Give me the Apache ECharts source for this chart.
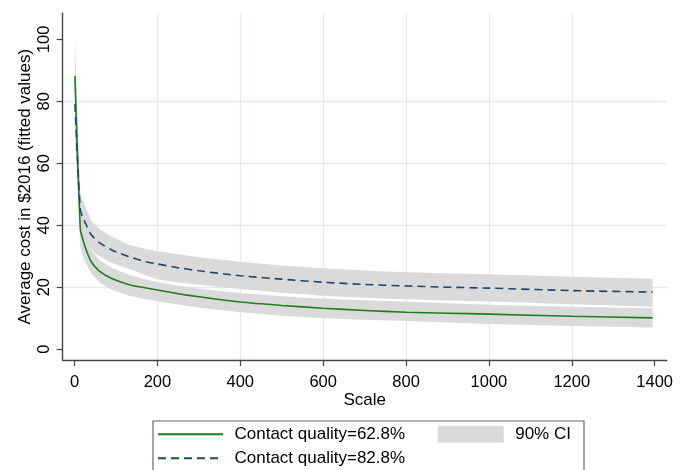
<!DOCTYPE html>
<html><head><meta charset="utf-8">
<script src="https://cdn.jsdelivr.net/npm/echarts@6/dist/echarts.min.js"></script>
<style>html,body{margin:0;padding:0;background:#fff}#c{width:690px;height:470px}</style>
</head><body><div id="c"></div>
<script>
// Scale values at which fitted values were read
const scaleX    = [1, 14, 20, 27, 40, 60, 90, 130, 170, 200, 250, 300, 400, 500, 600, 700, 800, 900, 1000, 1200, 1395];
// Contact quality = 62.8%
const cost628   = [88.2, 38.8, 35.5, 32.5, 28.3, 25.2, 22.8, 20.9, 19.8, 19.1, 17.9, 16.9, 15.2, 14.1, 13.2, 12.5, 11.9, 11.6, 11.3, 10.6, 10.1];
const ci628Low  = [76.0, 33.0, 30.0, 28.0, 24.5, 21.6, 19.2, 17.3, 16.2, 15.5, 14.4, 13.4, 11.9, 10.8, 10.0, 9.5, 9.1, 8.6, 8.1, 7.5, 7.0];
const ci628High = [100.5, 45.0, 40.5, 37.0, 32.0, 28.8, 26.3, 24.0, 22.6, 21.7, 20.5, 19.5, 18.1, 17.1, 16.3, 15.8, 15.3, 14.8, 14.3, 13.7, 13.2];
// Contact quality = 82.8%
const cost828   = [79.1, 45.0, 42.5, 40.5, 37.0, 34.4, 32.0, 29.9, 28.3, 27.5, 26.3, 25.3, 23.7, 22.6, 21.6, 20.9, 20.4, 20.0, 19.7, 18.9, 18.4];
const ci828Low  = [66.0, 40.0, 38.0, 36.0, 32.0, 30.0, 27.8, 26.0, 23.9, 22.6, 21.5, 20.8, 19.4, 18.2, 17.2, 16.6, 16.1, 15.7, 15.4, 14.5, 13.7];
const ci828High = [92.0, 50.0, 48.0, 46.0, 41.5, 38.8, 36.3, 33.8, 32.4, 31.6, 30.6, 29.7, 28.2, 27.0, 26.1, 25.4, 24.8, 24.5, 24.2, 23.4, 22.7];
// Axis ticks
const xTicks = [0, 200, 400, 600, 800, 1000, 1200, 1400];
const yTicks = [0, 20, 40, 60, 80, 100];

const FONT = 'Liberation Sans, Arial, sans-serif';
const GREEN = '#1b7f1b';
const NAVY = '#1a476f';
const GRAY = '#dadada';

function bandSeries(low, high) {
  return {
    type: 'custom',
    name: '90% CI',
    itemStyle: { color: GRAY },
    data: scaleX.map((x, i) => [x, low[i], high[i]]),
    encode: { x: 0, y: [1, 2] },
    renderItem: function (params, api) {
      if (params.dataIndex !== 0) return null;
      const pts = [];
      for (let i = 0; i < scaleX.length; i++) pts.push(api.coord([scaleX[i], high[i]]));
      for (let i = scaleX.length - 1; i >= 0; i--) pts.push(api.coord([scaleX[i], low[i]]));
      return { type: 'polygon', shape: { points: pts }, style: { fill: GRAY }, silent: true };
    },
    z: 1
  };
}

const chart = echarts.init(document.getElementById('c'), null, { renderer: 'canvas' });
chart.setOption({
  backgroundColor: '#fff',
  animation: false,
  textStyle: { fontFamily: FONT, color: '#000' },
  grid: { left: 62.7, right: 23.3, top: 13.3, bottom: 110 },
  xAxis: {
    type: 'value', min: -28.5, max: 1429, minInterval: 200, maxInterval: 200,
    name: 'Scale', nameLocation: 'middle', nameGap: 31.5, nameMoveOverlap: false,
    nameTextStyle: { fontSize: 17, color: '#000', fontFamily: FONT },
    axisLine: { show: true, onZero: false, lineStyle: { color: '#444', width: 1.4 } },
    axisTick: { show: true, length: 6, customValues: xTicks, lineStyle: { color: '#444', width: 1.2 } },
    axisLabel: { customValues: xTicks, fontSize: 16.5, color: '#000', margin: 14, fontFamily: FONT,
      formatter: v => String(v) },
    splitLine: { show: true, showMinLine: false, showMaxLine: false, lineStyle: { color: '#e3eaef', width: 1.3 } }
  },
  yAxis: {
    type: 'value', min: -3.5, max: 108.4, minInterval: 20, maxInterval: 20,
    name: 'Average cost in $2016 (fitted values)', nameLocation: 'middle', nameGap: 28.5, nameMoveOverlap: false,
    nameTextStyle: { fontSize: 17, color: '#000', fontFamily: FONT },
    axisLine: { show: true, onZero: false, lineStyle: { color: '#444', width: 1.4 } },
    axisTick: { show: true, length: 6, customValues: yTicks, lineStyle: { color: '#444', width: 1.2 } },
    axisLabel: { customValues: yTicks, rotate: 90, fontSize: 16.5, color: '#000', margin: 9.5, fontFamily: FONT,
      formatter: v => String(v) },
    splitLine: { show: true, showMinLine: false, showMaxLine: false, lineStyle: { color: '#e3eaef', width: 1.3 } }
  },
  legend: [
    {
      orient: 'vertical', left: 157, top: 425.8, padding: 0, itemGap: 7,
      itemWidth: 65, itemHeight: 14,
      itemStyle: { opacity: 0 },
      textStyle: { fontSize: 17, color: '#000', fontFamily: FONT, padding: [0, 0, 0, 6.5] },
      data: ['Contact quality=62.8%', 'Contact quality=82.8%']
    },
    {
      orient: 'vertical', left: 437.7, top: 425.8, padding: 0,
      itemWidth: 66, itemHeight: 17,
      textStyle: { fontSize: 17, color: '#000', fontFamily: FONT, padding: [0, 0, 0, 6.5] },
      data: [{ name: '90% CI', icon: 'rect', itemStyle: { color: GRAY, opacity: 1 } }]
    }
  ],
  graphic: [{
    type: 'rect', left: 150.5, top: 418.5, silent: true,
    shape: { x: 0, y: 0, width: 431, height: 60 },
    style: { fill: 'none', stroke: '#666', lineWidth: 1.2 }
  }],
  series: [
    bandSeries(ci628Low, ci628High),
    bandSeries(ci828Low, ci828High),
    {
      type: 'line', name: 'Contact quality=62.8%', showSymbol: false, symbol: 'none',
      data: scaleX.map((x, i) => [x, cost628[i]]), smooth: 0.25,
      lineStyle: { color: GREEN, width: 1.6 }, itemStyle: { color: GREEN }, z: 3
    },
    {
      type: 'line', name: 'Contact quality=82.8%', showSymbol: false, symbol: 'none',
      data: scaleX.map((x, i) => [x, cost828[i]]), smooth: 0.25,
      lineStyle: { color: NAVY, width: 1.6, type: [8, 5] }, itemStyle: { color: NAVY }, z: 3
    }
  ]
});
</script></body></html>
